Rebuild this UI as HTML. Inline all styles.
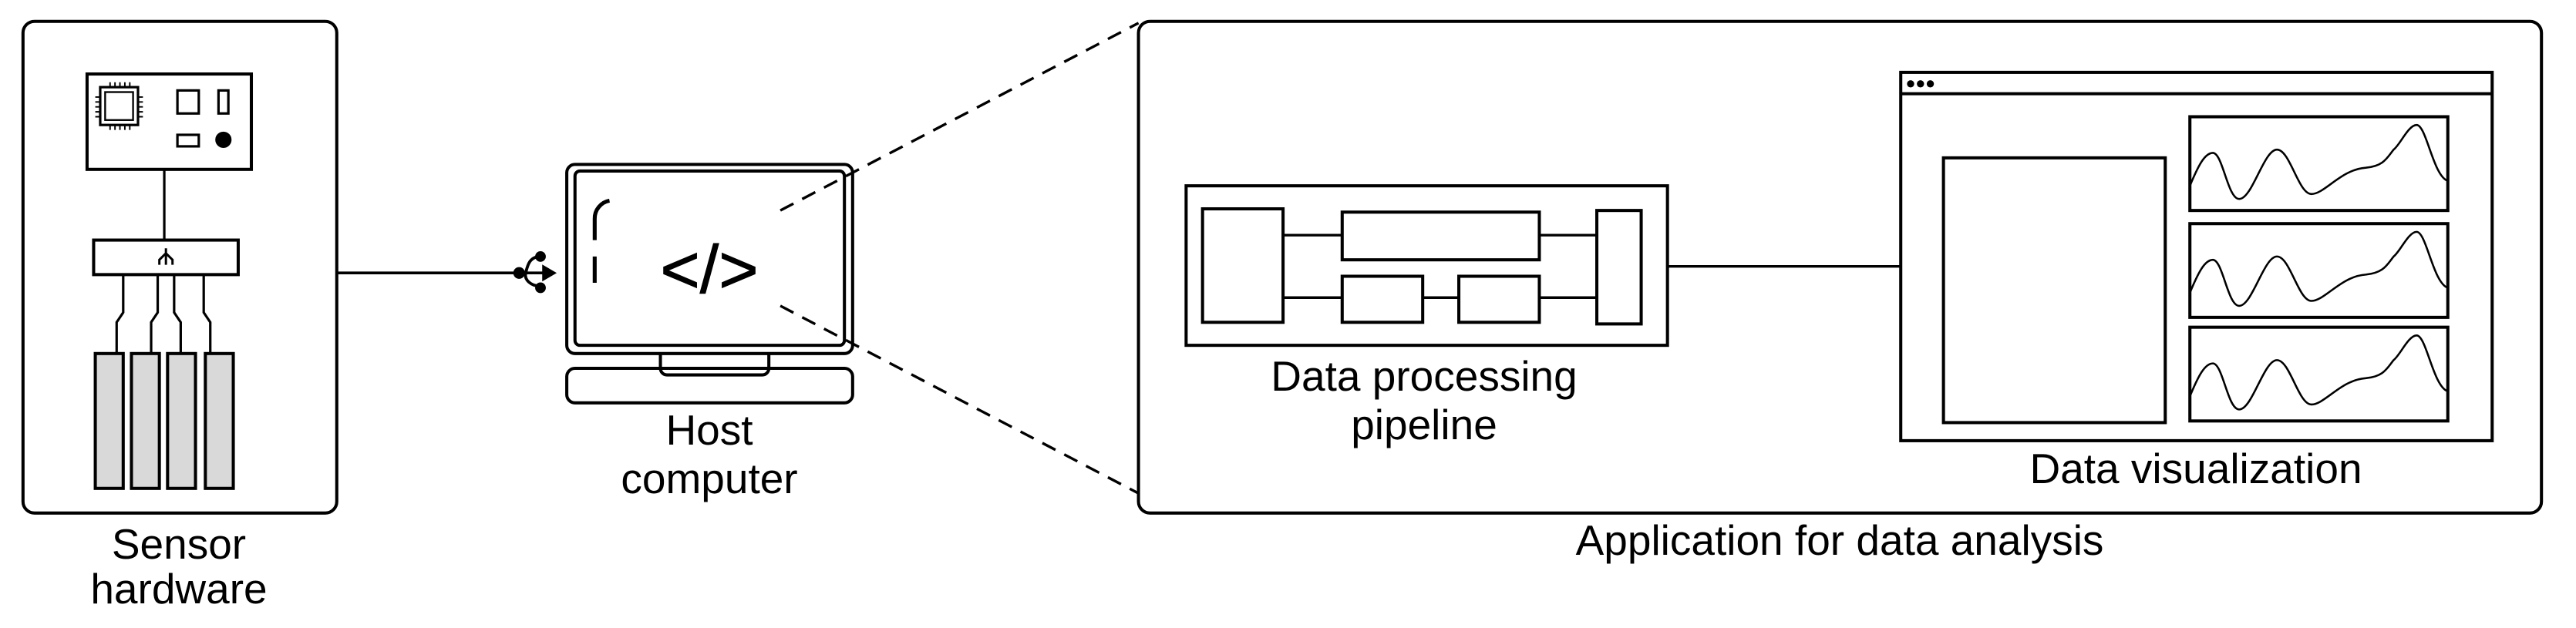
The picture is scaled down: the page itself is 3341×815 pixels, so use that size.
<!DOCTYPE html>
<html><head><meta charset="utf-8"><style>
html,body{margin:0;padding:0;background:#fff}
svg{display:block}
text{font-family:"Liberation Sans",sans-serif;fill:#000}
</style></head><body>
<svg width="3341" height="815" viewBox="0 0 3341 815" xmlns="http://www.w3.org/2000/svg">
<g transform="scale(2.1307,2.134)" fill="none" stroke="#000" stroke-width="1.9">
<!-- Sensor box -->
<rect x="14" y="13" width="191" height="299" rx="7"/>
<rect x="53" y="45" width="100" height="58"/>
<rect x="61" y="53" width="23" height="23" stroke-width="1.5"/>
<rect x="64" y="56" width="17" height="17" stroke-width="1.1"/>
<g stroke-width="0.9">
<path d="M67,50v3M70,50v3M73,50v3M76,50v3M79,50v3M67,76v3M70,76v3M73,76v3M76,76v3M79,76v3M58,59h3M58,62h3M58,65h3M58,68h3M58,71h3M84,59h3M84,62h3M84,65h3M84,68h3M84,71h3"/>
</g>
<rect x="108" y="55" width="13" height="14" stroke-width="1.5"/>
<rect x="133" y="55" width="6" height="14" stroke-width="1.5"/>
<rect x="108" y="82" width="13" height="7" stroke-width="1.5"/>
<circle cx="136" cy="85" r="4" fill="#000"/>
<path d="M100,103V146" stroke-width="1.5"/>
<rect x="57" y="146" width="88" height="21"/>
<path d="M101,151v10M101,154l-4,4v3M101,154l4,4v3" stroke-width="1.4"/>
<path d="M75,167V190l-4,6V215M96,167V190l-4,6V215M106,167V190l4,6V215M124,167V190l4,6V215" stroke-width="1.5"/>
<g fill="#d9d9d9">
<rect x="58" y="215" width="17" height="82"/>
<rect x="80" y="215" width="17" height="82"/>
<rect x="102" y="215" width="17" height="82"/>
<rect x="125" y="215" width="17" height="82"/>
</g>
<!-- connection to usb -->
<path d="M205,166H334" stroke-width="1.7"/>
<circle cx="316" cy="166" r="2.6" fill="#000"/>
<path d="M337,166l-6,-3.5v7z" fill="#000"/>
<path d="M329,156c-7,0-8,6-9,10c-1,4 3,8 9,8" stroke-width="1.8"/>
<circle cx="329" cy="156" r="2.3" fill="#000"/>
<circle cx="329" cy="175" r="2.3" fill="#000"/>
<!-- laptop -->
<rect x="345" y="100" width="174" height="115" rx="5"/>
<rect x="350" y="104" width="164" height="106" rx="3"/>
<path d="M402,215v9a4,4 0 0 0 4,4h58a4,4 0 0 0 4,-4v-9"/>
<rect x="345" y="224" width="174" height="21" rx="5"/>
<path d="M362,172V156M362,146v-13a11,11 0 0 1 9,-11" stroke-width="2.4"/>
<!-- dashed -->
<g stroke-dasharray="9,6" stroke-width="1.6">
<path d="M475,128L693,14"/>
<path d="M475,186L693,300"/>
</g>
<!-- app box -->
<rect x="693" y="13" width="854" height="299" rx="7"/>
<rect x="722" y="113" width="293" height="97"/>
<rect x="732" y="127" width="49" height="69"/>
<rect x="817" y="129" width="120" height="29"/>
<rect x="817" y="168" width="49" height="28"/>
<rect x="888" y="168" width="49" height="28"/>
<rect x="972" y="128" width="27" height="69"/>
<path d="M781,143H817M937,143H972M781,181H817M866,181H888M937,181H972" stroke-width="1.6"/>
<path d="M1015,162H1157" stroke-width="1.6"/>
<rect x="1157" y="44" width="360" height="224"/>
<path d="M1157,57H1517"/>
<circle cx="1163" cy="51" r="2.2" fill="#000" stroke="none"/>
<circle cx="1169" cy="51" r="2.2" fill="#000" stroke="none"/>
<circle cx="1175" cy="51" r="2.2" fill="#000" stroke="none"/>
<rect x="1183" y="96" width="135" height="161"/>
<g id="ch">
<rect x="1333" y="71" width="157" height="57"/>
<path transform="translate(1333,71)" d="M0,42 C5,30 9,22 14,22 C20,22 23,50 30,50 C38,50 45,20 53,20 C61,20 66,47 74,47 C82,47 92,32 107,31 C118,30 120,25 124,20 C128,17 133,5 138,5 C144,5 148,36 157,39" stroke-width="1.2"/>
</g>
<use href="#ch" transform="translate(0,65)"/>
<use href="#ch" transform="translate(0,128)"/>
</g>
<!-- code symbol -->
<text x="920" y="380" font-size="88" text-anchor="middle" stroke="#000" stroke-width="1">&lt;/&gt;</text>
<g font-size="55" text-anchor="middle">
<text x="232" y="725">Sensor</text>
<text x="232" y="783">hardware</text>
<text x="920" y="577">Host</text>
<text x="920" y="640">computer</text>
<text x="1847" y="507">Data processing</text>
<text x="1847" y="570">pipeline</text>
<text x="2848" y="627">Data visualization</text>
<text x="2386" y="720">Application for data analysis</text>
</g>
</svg>
</body></html>
